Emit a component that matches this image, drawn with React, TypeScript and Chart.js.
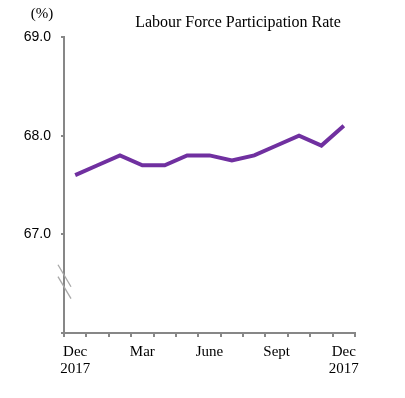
import React, { useEffect, useRef } from "react";
import { Chart, registerables } from "chart.js";

Chart.register(...registerables);

const months = ["Dec", "Jan", "Feb", "Mar", "Apr", "May", "June", "Jul", "Aug", "Sept", "Oct", "Nov", "Dec"];
const xTickLabels: (string | string[])[] = [["Dec", "2017"], "", "", "Mar", "", "", "June", "", "", "Sept", "", "", ["Dec", "2017"]];
const rateValues = [67.6, 67.7, 67.8, 67.7, 67.7, 67.8, 67.8, 67.75, 67.8, 67.9, 68.0, 67.9, 68.1];
const yTickValues = [66, 67, 68, 69];
const yTickLabels = ["", "67.0", "68.0", "69.0"];
const titleText = "Labour Force Participation Rate";
const unitText = "(%)";

const AXIS = "#878787";
const LINE = "#7030A0";

const decorPlugin = {
  id: "decor",
  afterDraw(chart: any) {
    const { ctx, chartArea, scales } = chart;
    const y = scales.y;
    ctx.save();
    ctx.fillStyle = "#000";
    ctx.textAlign = "center";
    ctx.textBaseline = "alphabetic";
    ctx.font = "16px 'Liberation Serif'";
    ctx.fillText(titleText, 238, 27);
    ctx.font = "15px 'Liberation Serif'";
    ctx.fillText(unitText, 42, 18);
    // axis break marks
    ctx.strokeStyle = "#a8a8a8";
    ctx.lineWidth = 1.3;
    const x0 = chartArea.left;
    [66.58, 66.46].forEach((v) => {
      const py = y.getPixelForValue(v);
      ctx.beginPath();
      ctx.moveTo(x0 - 6, py - 11);
      ctx.lineTo(x0 + 7, py + 11);
      ctx.stroke();
    });
    ctx.restore();
  },
};

export default function App() {
  const ref = useRef<HTMLCanvasElement>(null);
  useEffect(() => {
    if (!ref.current) return;
    const chart = new Chart(ref.current, {
      type: "line",
      data: {
        labels: months,
        datasets: [
          {
            data: rateValues,
            borderColor: LINE,
            backgroundColor: LINE,
            borderWidth: 4,
            pointRadius: 0,
            tension: 0,
            fill: false,
          },
        ],
      },
      options: {
        animation: false,
        responsive: false,
        maintainAspectRatio: false,
        layout: { padding: { left: 0, top: 37, right: 50, bottom: 0 } },
        plugins: { legend: { display: false }, tooltip: { enabled: false }, title: { display: false } },
        scales: {
          x: {
            type: "category",
            offset: true,
            afterFit: (s: any) => {
              s.height = 65;
            },
            grid: {
              offset: true,
              drawOnChartArea: false,
              drawTicks: true,
              tickLength: 4,
              color: AXIS,
              lineWidth: 2,
            },
            border: { display: true, color: AXIS, width: 2 },
            ticks: {
              autoSkip: false,
              maxRotation: 0,
              minRotation: 0,
              padding: 6,
              color: "#000",
              font: { family: "'Liberation Serif'", size: 15, lineHeight: 1.18 },
              callback: (_v: any, i: number) => xTickLabels[i],
            },
          },
          y: {
            min: 66,
            max: 69,
            afterFit: (s: any) => {
              s.width = 64;
            },
            afterBuildTicks: (s: any) => {
              s.ticks = yTickValues.map((v) => ({ value: v }));
            },
            grid: {
              drawOnChartArea: false,
              drawTicks: true,
              tickLength: 3,
              color: AXIS,
              lineWidth: 2,
            },
            border: { display: true, color: AXIS, width: 2 },
            ticks: {
              padding: 10,
              color: "#000",
              font: { family: "'Liberation Sans'", size: 14 },
              callback: (v: any) => {
                const i = yTickValues.indexOf(Number(v));
                return i >= 0 ? yTickLabels[i] : "";
              },
            },
          },
        },
      },
      plugins: [decorPlugin],
    });
    return () => chart.destroy();
  }, []);
  return (
    <div style={{ position: "fixed", left: 0, top: 0, width: 405, height: 398, background: "#fff" }}>
      <canvas ref={ref} width={405} height={398} style={{ width: 405, height: 398, display: "block" }} />
    </div>
  );
}
